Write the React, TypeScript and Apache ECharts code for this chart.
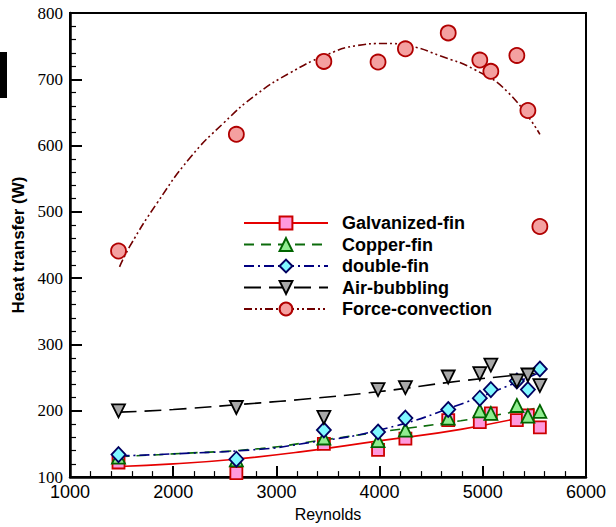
import React, { useEffect, useRef } from "react";
import * as echarts from "echarts";

// Reynolds numbers of the measured runs (shared by all five configurations)
const reynolds = [1470, 2612, 3460, 3985, 4250, 4665, 4971, 5078, 5330, 5437, 5553];

// Measured heat transfer (W)
const galvanized = [122, 106, 150, 141, 158, 186, 183, 196, 186, 193, 175];
const copper = [130, 126, 159, 155, 171, 189, 200, 196, 208, 192, 199];
const doubleFin = [134, 127, 171, 168, 189, 202, 219, 232, 245, 232, 263];
const airBubbling = [200, 205, 190, 232, 235, 251, 256, 269, 245, 254, 238];
const forceConvection = [441, 617, 727, 726, 746, 770, 729, 712, 736, 653, 478];

// Trend curves
const galvFitRe = [1480, 2000, 2600, 3233, 4010, 4786, 5553];
const galvFitQ = [116, 120, 127, 138, 155, 172, 196];
const copperFitRe = [1480, 2000, 2845, 3408, 4000, 4786, 5553];
const copperFitQ = [131, 135, 143, 155, 168, 185, 205];
const doubleFitRe = [1480, 2000, 2845, 3233, 4000, 4786, 5553];
const doubleFitQ = [132, 135, 142, 150, 171, 210, 258];
const airFitRe = [1480, 2000, 2845, 3233, 4000, 4786, 5553];
const airFitQ = [198, 202, 212, 217, 229, 245, 257];
const forceFitRe = [1480, 1583, 1842, 2165, 2488, 2813, 3136, 3459, 3783, 4042, 4301, 4592, 4916, 5240, 5553];
const forceFitQ = [417, 449, 513, 582, 634, 678, 710, 735, 751, 754, 750, 735, 715, 681, 617];

const xTicks = { min: 1000, max: 6000, step: 1000 };
const yTicks = { min: 100, max: 800, step: 100 };

const SANS = "'Liberation Sans', Arial, sans-serif";
const SERIF = "'Liberation Serif', 'Times New Roman', serif";

type Spec = {
  name: string;
  values: number[];
  fitRe: number[];
  fitQ: number[];
  lineColor: string;
  dash: number[] | "solid";
  symbol: string;
  size: number | number[];
  rotate: number;
  fill: string;
  border: string;
};

const specs: Spec[] = [
  {
    name: "Galvanized-fin", values: galvanized, fitRe: galvFitRe, fitQ: galvFitQ,
    lineColor: "#e60000", dash: "solid", symbol: "rect", size: 12, rotate: 0,
    fill: "#ff99dd", border: "#cc0000",
  },
  {
    name: "Copper-fin", values: copper, fitRe: copperFitRe, fitQ: copperFitQ,
    lineColor: "#0b6b0b", dash: [10, 7], symbol: "triangle", size: 13, rotate: 0,
    fill: "#90ee90", border: "#006400",
  },
  {
    name: "double-fin", values: doubleFin, fitRe: doubleFitRe, fitQ: doubleFitQ,
    lineColor: "#000080", dash: [10, 4, 2, 4], symbol: "diamond", size: [14, 15], rotate: 0,
    fill: "#80f8ff", border: "#000060",
  },
  {
    name: "Air-bubbling", values: airBubbling, fitRe: airFitRe, fitQ: airFitQ,
    lineColor: "#000000", dash: [17, 8], symbol: "triangle", size: 13, rotate: 180,
    fill: "#a8a8a8", border: "#000000",
  },
  {
    name: "Force-convection", values: forceConvection, fitRe: forceFitRe, fitQ: forceFitQ,
    lineColor: "#700000", dash: [8, 3, 2, 3, 2, 3], symbol: "circle", size: 15, rotate: 0,
    fill: "#f4a0a0", border: "#b00000",
  },
];

export default function App() {
  const ref = useRef<HTMLDivElement>(null);

  useEffect(() => {
    if (!ref.current) return;
    const chart = echarts.init(ref.current, null, { renderer: "svg" });

    const lineSeries = specs.map((s) => ({
      name: s.name,
      type: "line",
      data: s.fitRe.map((r, i) => [r, s.fitQ[i]]),
      smooth: true,
      showSymbol: false,
      symbol: s.symbol,
      symbolRotate: s.rotate,
      lineStyle: { color: s.lineColor, width: 1.6, type: s.dash },
      itemStyle: { color: s.fill, borderColor: s.border, borderWidth: 1.6 },
      z: 2,
      silent: true,
    }));

    const scatterSeries = specs.map((s) => ({
      name: s.name,
      type: "scatter",
      data: reynolds.map((r, i) => [r, s.values[i]]),
      symbol: s.symbol,
      symbolSize: s.size,
      symbolRotate: s.rotate,
      itemStyle: { color: s.fill, borderColor: s.border, borderWidth: 1.8, opacity: 1 },
      z: 3,
    }));

    chart.setOption({
      animation: false,
      backgroundColor: "#ffffff",
      grid: {
        left: 70,
        right: 30,
        top: 13,
        bottom: 42,
        show: true,
        borderColor: "#000",
        borderWidth: 2,
        backgroundColor: "transparent",
      },
      legend: {
        data: specs.map((s) => s.name),
        orient: "vertical",
        left: 243,
        top: 214,
        padding: 0,
        itemWidth: 84,
        itemHeight: 16,
        itemGap: 3.5,
        textStyle: {
          fontFamily: SANS,
          fontSize: 18,
          fontWeight: "bold",
          color: "#000",
          lineHeight: 18,
          padding: [0, 0, 0, 9],
        },
      },
      xAxis: {
        type: "value",
        min: xTicks.min,
        max: xTicks.max,
        interval: xTicks.step,
        name: "Reynolds",
        nameLocation: "middle",
        nameGap: 23,
        nameTextStyle: { fontFamily: SANS, fontSize: 16, color: "#000" },
        axisLine: { show: true, lineStyle: { color: "#000", width: 2.5 } },
        axisTick: { show: true, inside: true, length: 11, lineStyle: { color: "#000", width: 2 } },
        minorTick: { show: true, splitNumber: 5, length: 6, lineStyle: { color: "#000", width: 1.2 } },
        axisLabel: {
          fontFamily: SANS,
          fontSize: 18,
          color: "#000",
          margin: 6,
          formatter: (v: number) => String(v),
        },
        splitLine: { show: false },
      },
      yAxis: {
        type: "value",
        min: yTicks.min,
        max: yTicks.max,
        interval: yTicks.step,
        name: "Heat transfer (W)",
        nameLocation: "middle",
        nameGap: 28,
        nameTextStyle: { fontFamily: SANS, fontSize: 17, fontWeight: "bold", color: "#000" },
        axisLine: { show: true, lineStyle: { color: "#000", width: 2.5 } },
        axisTick: { show: true, inside: true, length: 12, lineStyle: { color: "#000", width: 2 } },
        minorTick: { show: true, splitNumber: 5, length: 6, lineStyle: { color: "#000", width: 1.2 } },
        axisLabel: {
          fontFamily: SERIF,
          fontSize: 17,
          color: "#000",
          margin: 7,
          formatter: (v: number) => String(v),
        },
        splitLine: { show: false },
      },
      graphic: [
        {
          type: "rect",
          left: 0,
          top: 52,
          shape: { width: 7, height: 46 },
          style: { fill: "#000" },
        },
      ],
      series: [...lineSeries, ...scatterSeries],
    });

    return () => chart.dispose();
  }, []);

  return (
    <div
      ref={ref}
      style={{ position: "fixed", left: 0, top: 0, width: 616, height: 527, background: "#fff" }}
    />
  );
}
